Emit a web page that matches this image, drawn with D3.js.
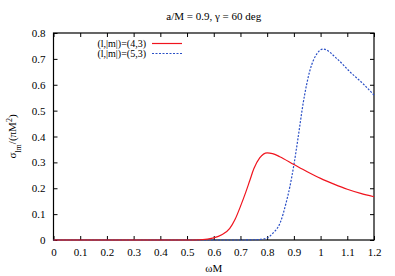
<!DOCTYPE html>
<html>
<head>
<meta charset="utf-8">
<script src="https://cdn.jsdelivr.net/npm/d3@7"></script>
<style>
  body { margin: 0; background: #fff; }
</style>
</head>
<body>
<svg id="chart" width="395" height="276"></svg>
<script>
// omega*M sample points and cross sections
const omega43 = [0, 0.3, 0.5, 0.55, 0.6, 0.63, 0.66, 0.68, 0.7, 0.72, 0.735, 0.75, 0.772, 0.8, 0.82, 0.847, 0.9, 0.95, 1.0, 1.05, 1.1, 1.15, 1.2]
const sigma43 = [0, 0, 0, 0.001, 0.008, 0.02, 0.045, 0.08, 0.13, 0.185, 0.23, 0.275, 0.317, 0.337, 0.334, 0.322, 0.292, 0.264, 0.238, 0.216, 0.196, 0.18, 0.167]

const omega53 = [0, 0.5, 0.7, 0.75, 0.78, 0.8, 0.82, 0.85, 0.87, 0.885, 0.9, 0.915, 0.935, 0.96, 0.985, 1.01, 1.06, 1.11, 1.16, 1.2]
const sigma53 = [0, 0, 0, 0.001, 0.003, 0.008, 0.025, 0.07, 0.14, 0.206, 0.29, 0.39, 0.53, 0.655, 0.718, 0.738, 0.702, 0.65, 0.603, 0.56]

const seriesNames = ['(l,|m|)=(4,3)', '(l,|m|)=(5,3)']
const xTicks = [0, 0.1, 0.2, 0.3, 0.4, 0.5, 0.6, 0.7, 0.8, 0.9, 1, 1.1, 1.2]
const yTicks = [0, 0.1, 0.2, 0.3, 0.4, 0.5, 0.6, 0.7, 0.8]

const serif = '"Liberation Serif", "DejaVu Serif", serif'
const margin = { left: 53.5, right: 21, top: 33, bottom: 36 }
const width = 395 - margin.left - margin.right
const height = 276 - margin.top - margin.bottom

const svg = d3.select('#chart')
const chart = svg.append('g')
  .attr('transform', `translate(${margin.left}, ${margin.top})`)

const xScale = d3.scaleLinear().domain([0, 1.2]).range([0, width])
const yScale = d3.scaleLinear().domain([0, 0.8]).range([height, 0])

// axes with inward ticks, mirrored on top and right
const fmt = d => d3.format('~g')(d)
chart.append('g')
  .attr('transform', `translate(0, ${height})`)
  .call(d3.axisBottom(xScale).tickValues(xTicks).tickSize(-4).tickPadding(8).tickFormat(fmt))
chart.append('g')
  .call(d3.axisTop(xScale).tickValues(xTicks).tickSize(-4).tickFormat(''))
chart.append('g')
  .call(d3.axisLeft(yScale).tickValues(yTicks).tickSize(-4).tickPadding(8).tickFormat(fmt))
chart.append('g')
  .attr('transform', `translate(${width}, 0)`)
  .call(d3.axisRight(yScale).tickValues(yTicks).tickSize(-4).tickFormat(''))

chart.selectAll('.domain').remove()
chart.selectAll('.tick line').attr('stroke', '#000')

chart.append('rect')
  .attr('width', width).attr('height', height)
  .attr('fill', 'none').attr('stroke', '#000').attr('stroke-width', 1.2)

// curves
const line = d3.line()
  .x(d => xScale(d[0]))
  .y(d => yScale(d[1]))
  .curve(d3.curveMonotoneX)

chart.append('path')
  .datum(d3.zip(omega53, sigma53))
  .attr('d', line)
  .attr('fill', 'none')
  .attr('stroke', '#2a4fc6')
  .attr('stroke-width', 1.2)
  .attr('stroke-dasharray', '2,1.5')

chart.append('path')
  .datum(d3.zip(omega43, sigma43))
  .attr('d', line)
  .attr('fill', 'none')
  .attr('stroke', '#f0141e')
  .attr('stroke-width', 1.2)

// legend
const legend = svg.append('g')
const legendStyles = [
  { color: '#f0141e', dash: null },
  { color: '#2a4fc6', dash: '2,1.5' }
]
seriesNames.forEach((name, i) => {
  const y = 43.5 + i * 10
  legend.append('text')
    .attr('x', 146).attr('y', y + 3.3)
    .attr('text-anchor', 'end')
    .style('font-size', '10px')
    .text(name)
  legend.append('line')
    .attr('x1', 152).attr('x2', 182)
    .attr('y1', y).attr('y2', y)
    .attr('stroke', legendStyles[i].color)
    .attr('stroke-width', 1.2)
    .attr('stroke-dasharray', legendStyles[i].dash)
})

// title and axis labels
svg.append('text')
  .attr('x', margin.left + width / 2)
  .attr('y', 20)
  .attr('text-anchor', 'middle')
  .text('a/M = 0.9, γ = 60 deg')

svg.append('text')
  .attr('x', margin.left + width / 2)
  .attr('y', 272)
  .attr('text-anchor', 'middle')
  .text('ωM')

svg.append('text')
  .attr('transform', `translate(16, ${margin.top + height / 2}) rotate(-90)`)
  .attr('text-anchor', 'middle')
  .html('σ<tspan baseline-shift="sub" font-size="8px">lm</tspan>/(πM<tspan baseline-shift="super" font-size="8px">2</tspan>)')

// serif font everywhere, like the original gnuplot output
svg.selectAll('text')
  .style('font-family', serif)
  .attr('fill', '#000')
svg.selectAll('text').filter(function () { return !this.style.fontSize })
  .style('font-size', '11px')
</script>
</body>
</html>
